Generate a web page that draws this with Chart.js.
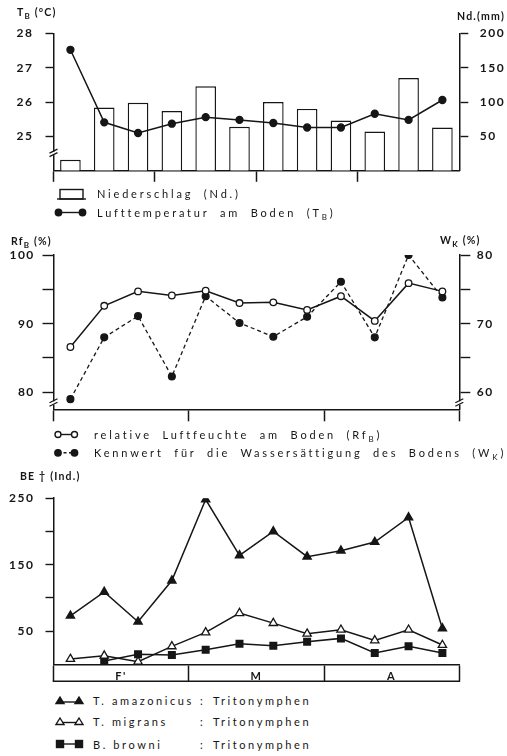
<!DOCTYPE html>
<html>
<head>
<meta charset="utf-8">
<script src="https://cdn.jsdelivr.net/npm/chart.js@4.4.1/dist/chart.umd.min.js"></script>
<style>
html, body { margin: 0; padding: 0; background: #fff; }
body { width: 507px; height: 756px; position: relative; overflow: hidden; font-family: Lato, "DejaVu Sans", sans-serif; color: #161616; }
canvas { position: absolute; left: 0; }
.ttl { position: absolute; font-size: 10.5px; font-weight: 700; letter-spacing: 1.2px; line-height: 1; white-space: nowrap; }
.leg { position: absolute; font-size: 11px; letter-spacing: 2.8px; word-spacing: 5px; line-height: 1; white-space: nowrap; }
.leg.sp { word-spacing: 0; letter-spacing: 2.6px; }
sub { font-size: 8px; vertical-align: -3px; line-height: 0; }
#icons { position: absolute; left: 0; top: 0; }
</style>
</head>
<body>
<canvas id="cTemp" width="507" height="190" style="top:0"></canvas>
<canvas id="cHum" width="507" height="200" style="top:230px"></canvas>
<canvas id="cMites" width="507" height="210" style="top:480px"></canvas>

<div class="ttl" style="left:17px;top:6.5px">T<sub>B</sub> (°C)</div>
<div class="ttl" style="right:2px;top:10.5px">Nd.(mm)</div>
<div class="ttl" style="left:11px;top:235.5px">Rf<sub>B</sub> (%)</div>
<div class="ttl" style="left:440px;top:235px">W<sub>K</sub> (%)</div>
<div class="ttl" style="left:20px;top:471px">BE † (Ind.)</div>

<div class="leg" style="left:97px;top:187.5px">Niederschlag (Nd.)</div>
<div class="leg" style="left:97px;top:206.5px">Lufttemperatur am Boden (T<sub>B</sub>)</div>
<div class="leg" style="left:94px;top:428.5px">relative Luftfeuchte am Boden (Rf<sub>B</sub>)</div>
<div class="leg" style="left:94px;top:447px">Kennwert für die Wassersättigung des Bodens (W<sub>K</sub>)</div>
<div class="leg sp" style="left:93px;top:695px">T. amazonicus</div>
<div class="leg sp" style="left:200px;top:695px">:</div>
<div class="leg sp" style="left:213px;top:695px">Tritonymphen</div>
<div class="leg sp" style="left:93px;top:716px">T. migrans</div>
<div class="leg sp" style="left:200px;top:716px">:</div>
<div class="leg sp" style="left:213px;top:716px">Tritonymphen</div>
<div class="leg sp" style="left:93px;top:738.5px">B. browni</div>
<div class="leg sp" style="left:200px;top:738.5px">:</div>
<div class="leg sp" style="left:213px;top:738.5px">Tritonymphen</div>

<svg id="icons" width="507" height="756" stroke="#161616" stroke-width="1.4" fill="#161616">
  <rect x="60" y="189.5" width="23" height="9.5" fill="#fff"/>
  <line x1="57" y1="199" x2="86" y2="199"/>
  <line x1="58.5" y1="212.5" x2="82.5" y2="212.5"/>
  <circle cx="58.5" cy="212.5" r="3.2"/><circle cx="82.5" cy="212.5" r="3.2"/>
  <line x1="58" y1="434.5" x2="74.5" y2="434.5"/>
  <circle cx="58" cy="434.5" r="3" fill="#fff"/><circle cx="74.5" cy="434.5" r="3" fill="#fff"/>
  <line x1="58" y1="452.8" x2="74.5" y2="452.8" stroke-dasharray="3 2.5"/>
  <circle cx="58" cy="452.8" r="3.2"/><circle cx="74.5" cy="452.8" r="3.2"/>
  <line x1="60" y1="702" x2="79" y2="702"/>
  <path d="M60 697 L64 703.5 L56 703.5 Z"/><path d="M79 697 L83 703.5 L75 703.5 Z"/>
  <line x1="60" y1="722.5" x2="79" y2="722.5"/>
  <path d="M60 718 L64 724.5 L56 724.5 Z" fill="#fff"/><path d="M79 718 L83 724.5 L75 724.5 Z" fill="#fff"/>
  <line x1="60" y1="744" x2="79" y2="744"/>
  <rect x="56.5" y="740.5" width="7" height="7"/><rect x="75.5" y="740.5" width="7" height="7"/>
</svg>

<script>
// 12 Probenahmen, Februar bis April
const sampleLabels = ['F1', 'F2', 'F3', 'F4', 'M1', 'M2', 'M3', 'M4', 'A1', 'A2', 'A3', 'A4'];
const months = ["F'", 'M', 'A'];
const monthBounds = [0, 4, 8, 12];

// oben: Niederschlag (mm) und Lufttemperatur am Boden (°C)
const niederschlag = [16, 92, 99, 87, 123, 64, 100, 90, 73, 57, 135, 63];
const lufttemperatur = [27.52, 25.41, 25.10, 25.37, 25.56, 25.48, 25.39, 25.26, 25.26, 25.66, 25.48, 26.06];

// Mitte: relative Luftfeuchte (%) und Wassersaettigung des Bodens (%)
const luftfeuchte = [86.6, 92.6, 94.7, 94.1, 94.8, 93.0, 93.1, 92.0, 94.0, 90.4, 95.9, 94.7];
const wassersaettigung = [59.0, 68.0, 71.1, 62.3, 74.0, 70.1, 68.1, 71.0, 76.1, 68.0, 80.0, 73.8];

// unten: Tritonymphen (Ind.)
const tAmazonicus = [73, 109, 64, 126, 248, 164, 200, 162, 171, 184, 221, 54];
const tMigrans = [8, 13, 4, 27, 48, 77, 62, 46, 52, 36, 52, 29];
const bBrowni = [null, 5, 15, 14, 22, 31, 28, 34, 39, 17, 27, 17];

// Achsen
const tempTicks = [25, 26, 27, 28];
const tempLabels = [25, 26, 27, 28];
const ndTicks = [50, 100, 150, 200];
const ndLabels = [50, 100, 150, 200];
const rfTicks = [80, 85, 90, 95, 100];
const rfLabels = [80, 90, 100];
const wkTicks = [60, 65, 70, 75, 80];
const wkLabels = [60, 70, 80];
const beTicks = [50, 100, 150, 200, 250];
const beLabels = [50, 150, 250];

const INK = '#161616';
const TICK_FONT = { family: 'Lato, "DejaVu Sans", sans-serif', size: 12, weight: 'bold' };

function valueAxis(o) {
    return {
        type: 'linear',
        position: o.position,
        min: o.min,
        max: o.max,
        afterBuildTicks: s => { s.ticks = o.ticks.map(v => ({ value: v })); },
        afterFit: s => { s.width = o.width; },
        grid: { drawOnChartArea: false, tickLength: o.tickLength, tickWidth: 1.4, tickColor: INK },
        border: { color: INK, width: 1.5 },
        ticks: {
            color: INK,
            font: TICK_FONT,
            padding: o.padding,
            callback: v => o.labels.includes(v) ? String(v) : ''
        }
    };
}

function monthAxis(o) {
    const mids = months.map((m, i) => (monthBounds[i] + monthBounds[i + 1]) / 2);
    const values = o.withLabels ? monthBounds.concat(mids).sort((a, b) => a - b) : monthBounds;
    return {
        type: 'linear',
        position: 'bottom',
        min: monthBounds[0],
        max: monthBounds[monthBounds.length - 1],
        afterBuildTicks: s => { s.ticks = values.map(v => ({ value: v })); },
        afterFit: s => { s.height = o.height; },
        grid: {
            drawOnChartArea: false,
            tickLength: o.tickLength,
            tickWidth: 1.5,
            tickColor: c => (c.tick && monthBounds.includes(c.tick.value)) ? INK : 'rgba(0,0,0,0)'
        },
        border: { color: INK, width: 1.5 },
        ticks: {
            display: !!o.withLabels,
            color: INK,
            font: { family: TICK_FONT.family, size: 11, weight: 'bold' },
            padding: o.padding || 0,
            callback: v => {
                const i = mids.indexOf(v);
                return i < 0 ? '' : months[i];
            }
        }
    };
}

// Achsenbrueche, Unterkante des Monatsbandes, Sperrschrift fuer Zahlen
const decor = {
    id: 'decor',
    beforeDraw(chart) {
        chart.ctx.letterSpacing = '1.5px';
    },
    afterDraw(chart, args, opts) {
        const ctx = chart.ctx;
        ctx.save();
        ctx.strokeStyle = INK;
        ctx.lineWidth = 1.3;
        (opts.breaks || []).forEach(b => {
            const s = chart.scales[b.axis];
            const x = s.position === 'left' ? s.right : s.left;
            const y = s.getPixelForValue(b.value);
            ctx.fillStyle = '#fff';
            ctx.fillRect(x - 2, y - 2, 4, 3.5);
            ctx.beginPath();
            ctx.moveTo(x - 4, y - 0.5);
            ctx.lineTo(x + 4, y - 4.5);
            ctx.moveTo(x - 4, y + 3);
            ctx.lineTo(x + 4, y - 1);
            ctx.stroke();
        });
        if (opts.band) {
            const s = chart.scales.xm;
            const y = chart.chartArea.bottom + opts.band;
            ctx.lineWidth = 1.5;
            ctx.beginPath();
            ctx.moveTo(s.left - 0.75, y);
            ctx.lineTo(s.right + 0.75, y);
            ctx.stroke();
        }
        ctx.restore();
    }
};

const baseOptions = {
    responsive: false,
    animation: false,
    events: []
};

new Chart(document.getElementById('cTemp'), {
    type: 'bar',
    data: {
        labels: sampleLabels,
        datasets: [
            {
                type: 'line',
                label: 'Lufttemperatur am Boden',
                data: lufttemperatur,
                yAxisID: 'yL',
                borderColor: INK,
                borderWidth: 1.5,
                pointRadius: 3.4,
                pointBackgroundColor: INK,
                pointBorderColor: INK,
                tension: 0,
                order: 0
            },
            {
                type: 'bar',
                label: 'Niederschlag',
                data: niederschlag,
                yAxisID: 'yR',
                backgroundColor: '#fff',
                borderColor: INK,
                borderWidth: 1.4,
                barPercentage: 0.61,
                categoryPercentage: 1,
                order: 1
            }
        ]
    },
    options: {
        ...baseOptions,
        layout: { padding: { top: 33.3, bottom: 6.7, left: 0, right: 0 } },
        plugins: {
            legend: { display: false },
            tooltip: { enabled: false },
            decor: { breaks: [{ axis: 'yL', value: 24.5 }] }
        },
        scales: {
            x: { type: 'category', display: false, offset: true },
            xm: monthAxis({ tickLength: 11, height: 11 }),
            yL: valueAxis({ position: 'left', min: 24, max: 28, ticks: tempTicks, labels: tempLabels, width: 53.5, tickLength: 8, padding: 12 }),
            yR: valueAxis({ position: 'right', min: 0, max: 200, ticks: ndTicks, labels: ndLabels, width: 47.7, tickLength: 9, padding: 11.5 })
        }
    },
    plugins: [decor]
});

new Chart(document.getElementById('cHum'), {
    type: 'line',
    data: {
        labels: sampleLabels,
        datasets: [
            {
                label: 'relative Luftfeuchte am Boden',
                data: luftfeuchte,
                yAxisID: 'yL',
                borderColor: INK,
                borderWidth: 1.5,
                pointRadius: 3.3,
                pointBackgroundColor: '#fff',
                pointBorderColor: INK,
                pointBorderWidth: 1.3,
                tension: 0,
                order: 0
            },
            {
                label: 'Kennwert für die Wassersättigung des Bodens',
                data: wassersaettigung,
                yAxisID: 'yR',
                borderColor: INK,
                borderWidth: 1.3,
                borderDash: [4, 3],
                pointRadius: 3.4,
                pointBackgroundColor: INK,
                pointBorderColor: INK,
                tension: 0,
                order: 1
            }
        ]
    },
    options: {
        ...baseOptions,
        layout: { padding: { top: 25, bottom: 8.7, left: 0, right: 0 } },
        plugins: {
            legend: { display: false },
            tooltip: { enabled: false },
            decor: { breaks: [{ axis: 'yL', value: 78.4 }, { axis: 'yR', value: 58.4 }] }
        },
        scales: {
            x: { type: 'category', display: false, offset: true },
            xm: monthAxis({ tickLength: 12, height: 12 }),
            yL: valueAxis({ position: 'left', min: 77.52, max: 100, ticks: rfTicks, labels: rfLabels, width: 53.5, tickLength: 11, padding: 7.7 }),
            yR: valueAxis({ position: 'right', min: 57.52, max: 80, ticks: wkTicks, labels: wkLabels, width: 47.7, tickLength: 11, padding: 6.4 })
        }
    },
    plugins: [decor]
});

new Chart(document.getElementById('cMites'), {
    type: 'line',
    data: {
        labels: sampleLabels,
        datasets: [
            {
                label: 'T. amazonicus',
                data: tAmazonicus,
                borderColor: INK,
                borderWidth: 1.5,
                pointStyle: 'triangle',
                pointRadius: 4.6,
                pointBackgroundColor: INK,
                pointBorderColor: INK,
                tension: 0
            },
            {
                label: 'T. migrans',
                data: tMigrans,
                borderColor: INK,
                borderWidth: 1.5,
                pointStyle: 'triangle',
                pointRadius: 4.8,
                pointBackgroundColor: '#fff',
                pointBorderColor: INK,
                pointBorderWidth: 1.3,
                tension: 0
            },
            {
                label: 'B. browni',
                data: bBrowni,
                borderColor: INK,
                borderWidth: 1.5,
                pointStyle: 'rect',
                pointRadius: 4.6,
                pointBackgroundColor: INK,
                pointBorderColor: INK,
                tension: 0
            }
        ]
    },
    options: {
        ...baseOptions,
        layout: { padding: { top: 14.3, bottom: 8.7, left: 0, right: 47.7 } },
        plugins: {
            legend: { display: false },
            tooltip: { enabled: false },
            decor: { band: 17 }
        },
        scales: {
            x: { type: 'category', display: false, offset: true },
            xm: monthAxis({ tickLength: 17, height: 17, withLabels: true, padding: -11.5 }),
            y: valueAxis({ position: 'left', min: 0, max: 250, ticks: beTicks, labels: beLabels, width: 53.5, tickLength: 8, padding: 11 })
        }
    },
    plugins: [decor]
});
</script>
</body>
</html>
